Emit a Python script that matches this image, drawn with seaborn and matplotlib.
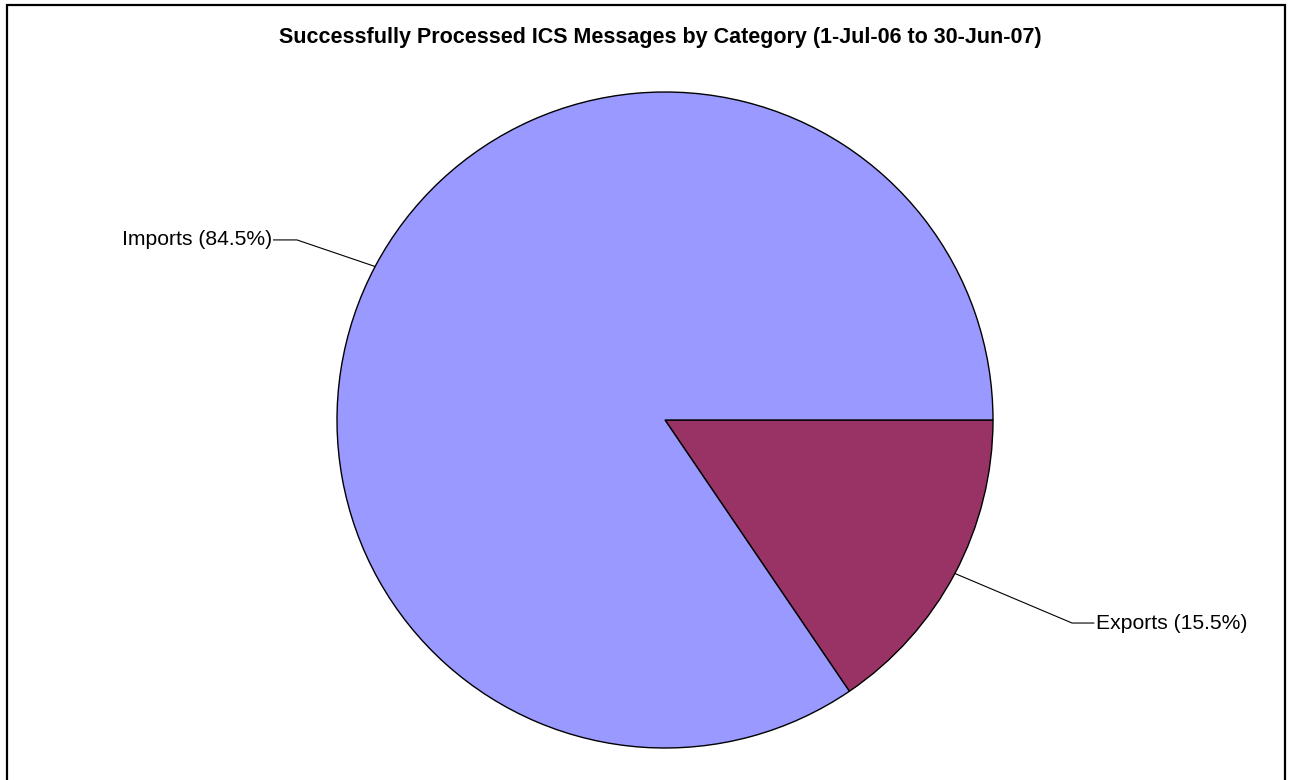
import matplotlib
matplotlib.use("Agg")
import matplotlib.pyplot as plt
from matplotlib.patches import Rectangle
import numpy as np
import seaborn as sns

# Data
categories = ["Exports", "Imports"]
shares = [15.5, 84.5]
colors_hex = ["#993366", "#9999FF"]
title = "Successfully Processed ICS Messages by Category (1-Jul-06 to 30-Jun-07)"

sns.set_theme(style="white")
plt.rcParams['font.family'] = ['Liberation Sans', 'DejaVu Sans']

W, H = 1292, 780
fig = plt.figure(figsize=(W / 100, H / 100), dpi=100)
fig.patch.set_facecolor("white")

cx, cy, R = 665, 420, 328
ax = fig.add_axes([(cx - R) / W, (H - cy - R) / H, 2 * R / W, 2 * R / H])

palette = sns.color_palette(colors_hex)
wedges, _ = ax.pie(shares, colors=palette, startangle=0, counterclock=False,
                   radius=1.0, wedgeprops=dict(edgecolor="black", linewidth=1.0))
ax.set_xlim(-1, 1)
ax.set_ylim(-1, 1)
ax.set_aspect("equal")
ax.axis("off")

# label layout (elbow point, text offset, alignment)
layout = {
    "Imports": dict(elbow=(-1.122, 0.549), text_dx=-0.073, ha="right"),
    "Exports": dict(elbow=(1.241, -0.619), text_dx=0.068, ha="left"),
}
for w, cat, val in zip(wedges, categories, shares):
    mid = np.deg2rad((w.theta1 + w.theta2) / 2)
    ax_pt = (np.cos(mid), np.sin(mid))
    lay = layout[cat]
    ex, ey = lay["elbow"]
    tx = ex + lay["text_dx"]
    ax.plot([ax_pt[0], ex, tx], [ax_pt[1], ey, ey], color="black", lw=0.8,
            clip_on=False, solid_capstyle="butt")
    ax.text(tx + (0.004 if lay["ha"] == "left" else -0.004), ey,
            f"{cat} ({val:.1f}%)", ha=lay["ha"], va="center",
            fontsize=15.2, color="black", clip_on=False)

fig.text(660 / W, 1 - 38 / H, title, ha="center", va="center",
         fontsize=15.5, fontweight="bold", color="black")

frame = Rectangle((7 / W, -0.02), 1278 / W, 1 - 5 / H + 0.02,
                  transform=fig.transFigure, fill=False, edgecolor="black",
                  linewidth=1.6)
fig.patches.append(frame)

fig.savefig("out.png", dpi=100, facecolor="white")
